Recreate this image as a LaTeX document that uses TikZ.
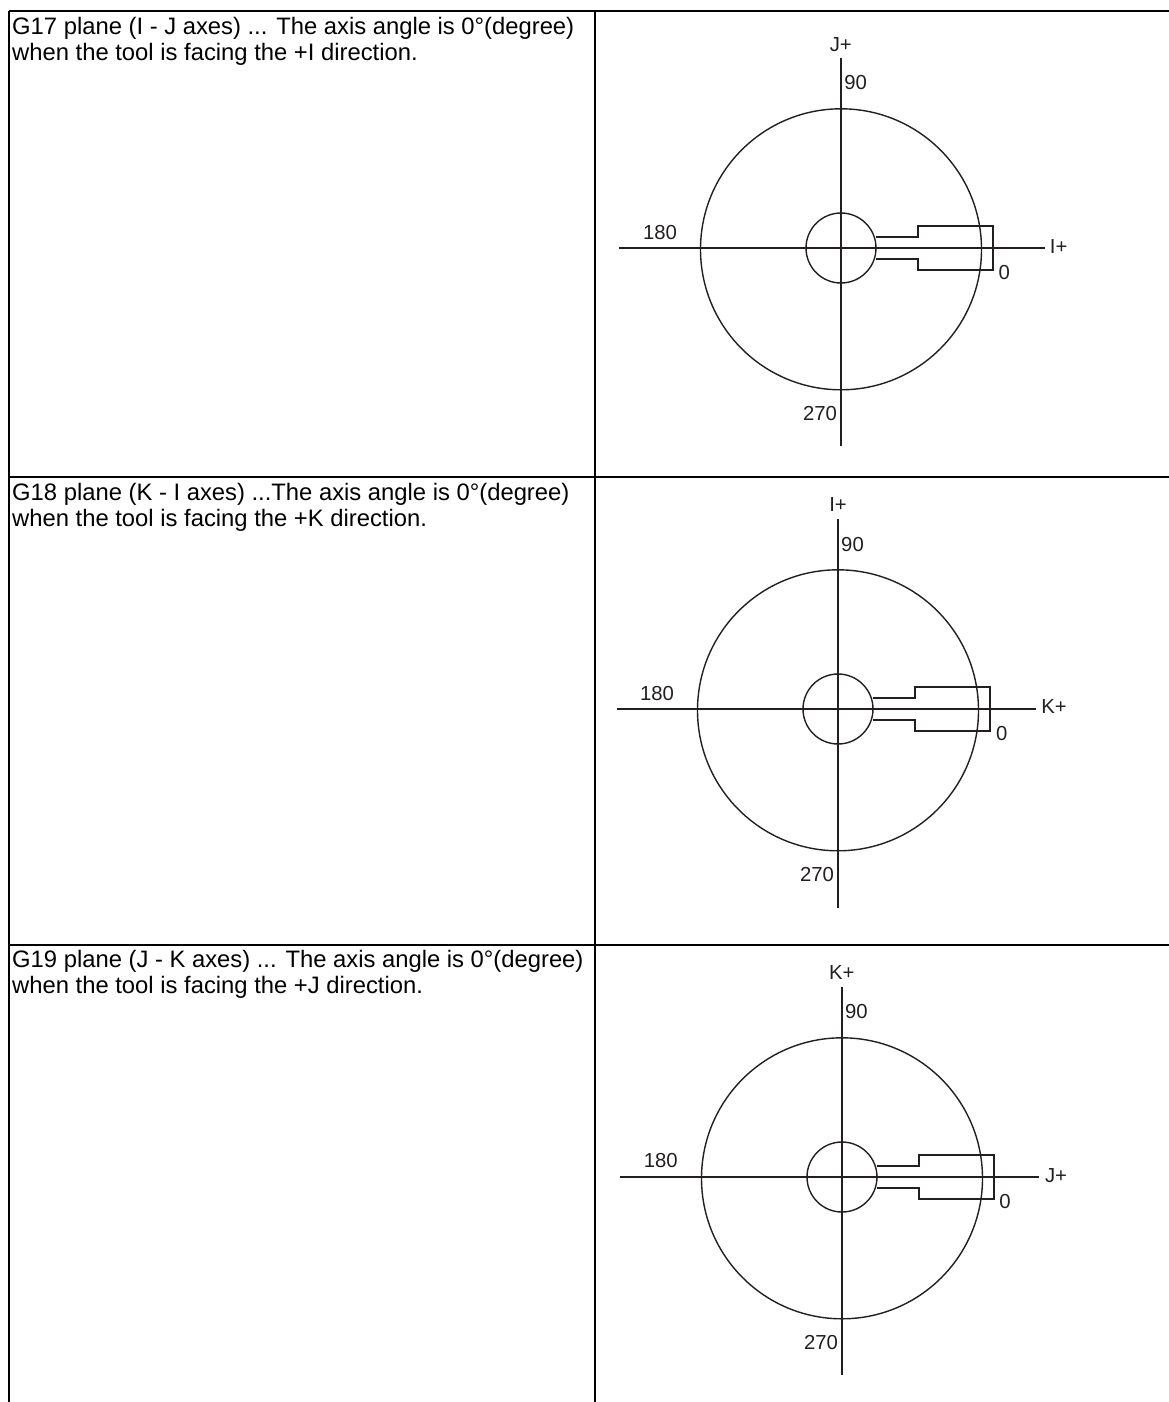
\documentclass[tikz,border=0pt]{standalone}
\usepackage{fontspec}
\setmainfont{Liberation Sans}
\usetikzlibrary{positioning,calc}
\definecolor{ink}{HTML}{231F20}
\tikzset{
  rulebox/.style={line width=2pt, color=black},
  drawn/.style={line width=1.4pt, color=ink},
  celltext/.style={anchor=north west, inner sep=0pt, align=left, font=\fontsize{23.8}{26}\selectfont},
  axislabel/.style={inner sep=0pt, color=ink, font=\fontsize{20.3}{22}\selectfont}
}
\begin{document}
\begin{tikzpicture}[x=1pt, y=-1pt]
\useasboundingbox (0,0) rectangle (1169,1402);
% table rules
\coordinate (tl) at (9,11);
\coordinate (tm) at (595,11);
\coordinate (tr) at (1169,11);
\coordinate (bl) at (9,1402);
\coordinate (bm) at (595,1402);
\coordinate (rl) at (9,477);
\coordinate (rr) at (1169,477);
\coordinate (sl) at (9,945);
\coordinate (sr) at (1169,945);
\draw[rulebox] (tl) -- (tr);
\draw[rulebox] (rl) -- (rr);
\draw[rulebox] (sl) -- (sr);
\draw[rulebox] (tl) -- (bl);
\draw[rulebox] (tm) -- (bm);
% left column
\node[celltext] (t17) at (12,17) {G17 plane (I - J axes) ... The axis angle is 0°(degree)\\when the tool is facing the +I direction.};
\node[celltext] (t18) at (12,483) {G18 plane (K - I axes) ...The axis angle is 0°(degree)\\when the tool is facing the +K direction.};
\node[celltext] (t19) at (12,950) {G19 plane (J - K axes) ... The axis angle is 0°(degree)\\when the tool is facing the +J direction.};
% G17
\coordinate (oa) at (841,248);
\coordinate (aw) at (619,248);
\coordinate (ae) at (1045,248);
\coordinate (an) at (841,58);
\coordinate (as) at (841,446);
\draw[drawn] (aw) -- (ae);
\draw[drawn] (an) -- (as);
\draw[drawn] ($(oa)+(0,1.3)$) circle (140.5);
\draw[drawn] (oa) circle (35);
\draw[drawn] ($(oa)+(35,-11)$) -| ++(42,-11) -| ++(75,44) -| ++(-75,-11) -- ++(-42,0);
\node[axislabel] (a90) at (855.6,82.7) {90};
\node[axislabel] (ajp) at (840.8,45) {J+};
\node[axislabel] (a180) at (660,232.7) {180};
\node[axislabel] (aip) at (1058.7,247) {I+};
\node[axislabel] (a0) at (1004.3,272.3) {0};
\node[axislabel] (a270) at (820,413.3) {270};
% G18
\coordinate (ob) at (838,709);
\coordinate (bw) at (617,709);
\coordinate (be) at (1036,709);
\coordinate (bn) at (838,519);
\coordinate (bs) at (838,908);
\draw[drawn] (bw) -- (be);
\draw[drawn] (bn) -- (bs);
\draw[drawn] ($(ob)+(0,1.3)$) circle (140.5);
\draw[drawn] (ob) circle (35);
\draw[drawn] ($(ob)+(35,-11)$) -| ++(42,-11) -| ++(75,44) -| ++(-75,-11) -- ++(-42,0);
\node[axislabel] (b90) at (852.5,545) {90};
\node[axislabel] (bip) at (838,505) {I+};
\node[axislabel] (b180) at (657,693.3) {180};
\node[axislabel] (bkp) at (1054,707) {K+};
\node[axislabel] (b0) at (1001.7,733.3) {0};
\node[axislabel] (b270) at (817,874.3) {270};
% G19
\coordinate (oc) at (842,1177);
\coordinate (cw) at (620,1177);
\coordinate (ce) at (1039,1177);
\coordinate (cn) at (842,987);
\coordinate (cs) at (842,1375);
\draw[drawn] (cw) -- (ce);
\draw[drawn] (cn) -- (cs);
\draw[drawn] ($(oc)+(0,1.3)$) circle (140.5);
\draw[drawn] (oc) circle (35);
\draw[drawn] ($(oc)+(35,-11)$) -| ++(42,-11) -| ++(75,44) -| ++(-75,-11) -- ++(-42,0);
\node[axislabel] (c90) at (856.3,1011.7) {90};
\node[axislabel] (ckp) at (841.7,973) {K+};
\node[axislabel] (c180) at (660.7,1160.7) {180};
\node[axislabel] (cjp) at (1056,1176) {J+};
\node[axislabel] (c0) at (1005,1201.7) {0};
\node[axislabel] (c270) at (821,1342.7) {270};
\end{tikzpicture}
\end{document}
